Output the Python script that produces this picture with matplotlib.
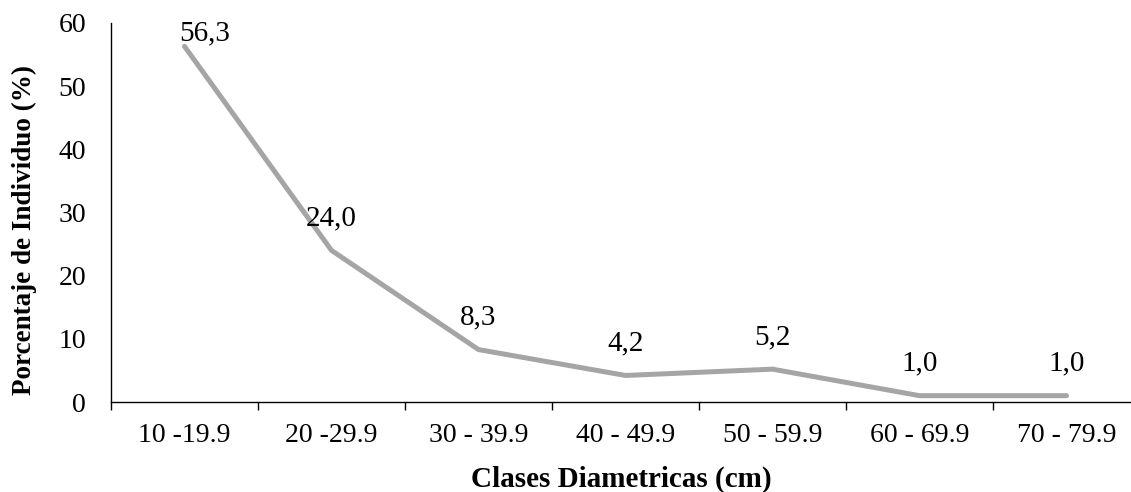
import matplotlib.pyplot as plt
from matplotlib.ticker import FixedLocator

plt.rcParams['font.family'] = ['Liberation Serif', 'DejaVu Serif']

clases = ["10 -19.9", "20 -29.9", "30 - 39.9", "40 - 49.9",
          "50 - 59.9", "60 - 69.9", "70 - 79.9"]
porcentaje = [56.3, 24.0, 8.3, 4.2, 5.2, 1.0, 1.0]
etiquetas = ["56,3", "24,0", "8,3", "4,2", "5,2", "1,0", "1,0"]
yticks = [0, 10, 20, 30, 40, 50, 60]

fig = plt.figure(figsize=(11.31, 4.92), dpi=100)
ax = fig.add_axes([111 / 1131, 90 / 492, 1 - 111 / 1131, (402 - 23) / 492])

x = list(range(len(clases)))
ax.plot(x, porcentaje, color="#a5a5a5", linewidth=3.6,
        solid_capstyle="round", solid_joinstyle="miter", clip_on=False)

for i, (xi, yi, lab) in enumerate(zip(x, porcentaje, etiquetas)):
    if i == 0:
        # label pushed inside the top of the plot area
        ax.annotate(lab, (xi, yi), xytext=(-4, 4), textcoords="offset points",
                    ha="left", va="baseline", fontsize=21)
    else:
        ax.annotate(lab, (xi, yi), xytext=(0, 18), textcoords="offset points",
                    ha="center", va="baseline", fontsize=21)

ax.set_ylim(0, 60)
ax.set_xlim(-0.5, -0.5 + (1131 - 111) / 147)
ax.set_yticks(yticks)
ax.tick_params(axis="y", length=0, pad=18, labelsize=20)

ax.xaxis.set_major_locator(FixedLocator([i - 0.5 for i in range(len(clases) + 1)]))
ax.xaxis.set_minor_locator(FixedLocator(x))
ax.set_xticklabels([], minor=False)
ax.set_xticklabels(clases, minor=True)
ax.tick_params(axis="x", which="major", length=6, width=1, direction="out")
ax.tick_params(axis="x", which="minor", length=0, pad=15, labelsize=20)

for s in ["top", "right"]:
    ax.spines[s].set_visible(False)
ax.spines["left"].set_linewidth(1)
ax.spines["bottom"].set_linewidth(1)

ax.set_xlabel("Clases Diametricas (cm)", fontsize=21, fontweight="bold", labelpad=13)
ax.set_ylabel("Porcentaje de Individuo (%)", fontsize=19.5, fontweight="bold")
ax.yaxis.set_label_coords(-0.0725, 0.454)

fig.savefig("out.png", dpi=100)
